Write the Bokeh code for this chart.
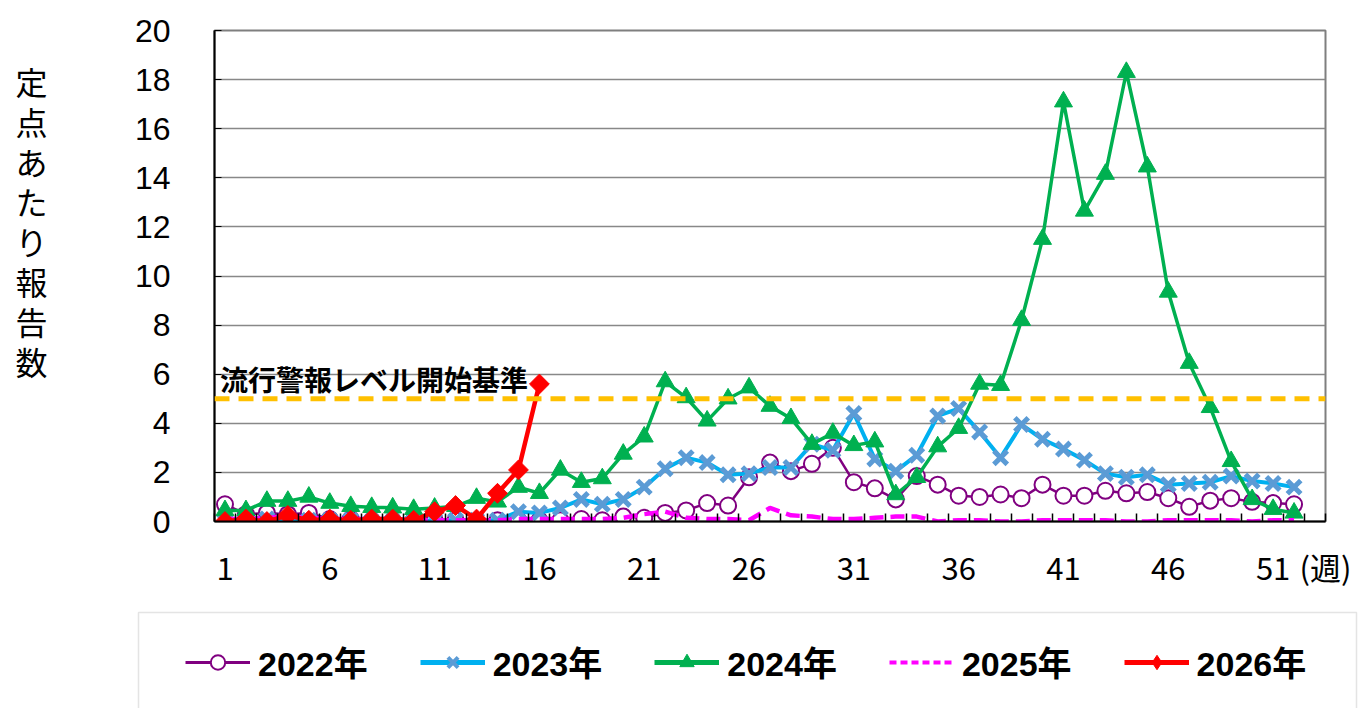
from bokeh.plotting import figure
from bokeh.models import (Legend, LegendItem, Label, Span, FixedTicker, Range1d,
                          BoxAnnotation)
from bokeh.layouts import column, row
from bokeh.embed import file_html
from bokeh.resources import INLINE

weeks = list(range(1, 53))
week_ticks = [1, 6, 11, 16, 21, 26, 31, 36, 41, 46, 51]
y_ticks = [0, 2, 4, 6, 8, 10, 12, 14, 16, 18, 20]

y2022 = [0.7, 0.3, 0.35, 0.3, 0.35, 0.1, 0.1, 0.05, 0.05, 0.05, 0.05, 0.05, 0.0,
         0.05, 0.05, 0.05, 0.05, 0.1, 0.05, 0.2, 0.15, 0.35, 0.45, 0.75, 0.65, 1.8,
         2.4, 2.05, 2.35, 3.0, 1.6, 1.35, 0.9, 1.85, 1.5, 1.05, 1.0, 1.1, 0.95,
         1.5, 1.05, 1.05, 1.25, 1.15, 1.2, 0.95, 0.6, 0.85, 0.95, 0.8, 0.75, 0.7]
y2023 = [0.0, 0.05, 0.1, 0.1, 0.05, 0.05, 0.05, 0.0, 0.0, 0.0, 0.05, 0.05, 0.05,
         0.05, 0.4, 0.35, 0.55, 0.9, 0.7, 0.9, 1.4, 2.15, 2.6, 2.4, 1.9, 1.95,
         2.2, 2.2, 3.15, 2.9, 4.4, 2.55, 2.05, 2.7, 4.3, 4.6, 3.65, 2.6, 3.95,
         3.35, 2.95, 2.5, 1.95, 1.8, 1.9, 1.5, 1.55, 1.6, 1.85, 1.65, 1.55, 1.4]
y2024 = [0.45, 0.45, 0.83, 0.83, 1.0, 0.75, 0.62, 0.58, 0.56, 0.5, 0.55, 0.62, 0.95,
         0.8, 1.4, 1.15, 2.1, 1.6, 1.75, 2.75, 3.45, 5.7, 5.05, 4.1, 5.0, 5.45,
         4.7, 4.2, 3.15, 3.6, 3.1, 3.25, 1.1, 1.8, 3.05, 3.8, 5.6, 5.55, 8.2,
         11.5, 17.1, 12.65, 14.15, 18.3, 14.45, 9.35, 6.45, 4.65, 2.45, 0.9, 0.5, 0.35]
y2025 = [0.1, 0.1, 0.15, 0.2, 0.15, 0.1, 0.1, 0.1, 0.1, 0.05, 0.05, 0.05, 0.05,
         0.05, 0.1, 0.1, 0.1, 0.1, 0.1, 0.15, 0.3, 0.4, 0.15, 0.1, 0.1, 0.05,
         0.55, 0.25, 0.2, 0.1, 0.1, 0.15, 0.2, 0.2, 0.0, 0.05, 0.05, 0.0, 0.0,
         0.05, 0.05, 0.05, 0.05, 0.0, 0.0, 0.05, 0.05, 0.05, 0.05, 0.0, 0.05, 0.05]
weeks2026 = list(range(1, 17))
y2026 = [0.0, 0.1, 0.0, 0.25, 0.05, 0.1, 0.05, 0.1, 0.1, 0.05, 0.4, 0.65, 0.1,
         1.15, 2.1, 5.6]

series_labels = ["2022年", "2023年", "2024年", "2025年", "2026年"]
alert_level = 5.0
alert_text = "流行警報レベル開始基準"
y_title = "定点あたり報告数"
x_unit = "(週)"
x_unit_pos = 53.5

JP = "Noto Sans CJK JP"
NUM = "Liberation Sans, Noto Sans CJK JP"
NAN = float("nan")

C22, C23L, C23M, C24, C25, C26 = "#800080", "#00B0F0", "#5B9BD5", "#00B050", "#FF00FF", "#FF0000"

# ---------------- main chart ----------------
p = figure(width=1258, height=600, x_range=Range1d(0.5, 53.5), y_range=Range1d(0, 20),
           output_backend="svg", toolbar_location=None,
           min_border_left=114, min_border_right=33, min_border_top=30, min_border_bottom=79)
p.background_fill_color = "white"
p.border_fill_color = "white"
p.outline_line_color = "#7f7f7f"
p.outline_line_width = 2

p.xgrid.grid_line_color = None
p.ygrid.grid_line_color = "#888888"
p.ygrid.grid_line_width = 1.5

p.yaxis.ticker = FixedTicker(ticks=y_ticks)
p.yaxis.major_label_text_font = "Liberation Sans"
p.yaxis.major_label_text_font_size = "32px"
p.yaxis.major_label_text_color = "black"
p.yaxis.major_tick_in = 7
p.yaxis.major_tick_out = 0
p.yaxis.minor_tick_line_color = None
p.yaxis.major_label_standoff = 44
p.yaxis.axis_line_color = "black"
p.yaxis.axis_line_width = 2
p.yaxis.major_tick_line_color = "black"

p.xaxis.ticker = FixedTicker(ticks=week_ticks + [x_unit_pos],
                             minor_ticks=[w + 0.5 for w in range(0, 54)])
p.xaxis.major_label_overrides = {x_unit_pos: x_unit}
p.xaxis.major_label_text_font = JP
p.xaxis.major_label_text_font_size = "31px"
p.xaxis.major_label_text_color = "black"
p.xaxis.major_tick_line_color = None
p.xaxis.minor_tick_in = 8
p.xaxis.minor_tick_out = 0
p.xaxis.minor_tick_line_color = "black"
p.xaxis.minor_tick_line_width = 1.5
p.xaxis.major_label_standoff = 16
p.xaxis.axis_line_color = "black"
p.xaxis.axis_line_width = 2

p.line(weeks, y2022, line_color=C22, line_width=2.5)
p.scatter(weeks, y2022, marker="circle", size=16, line_color=C22,
          fill_color="white", line_width=2)
p.line(weeks, y2023, line_color=C23L, line_width=4)
p.scatter(weeks, y2023, marker="x", size=19, line_color=C23M, line_width=5)
p.line(weeks, y2024, line_color=C24, line_width=3.5)
p.scatter(weeks, y2024, marker="triangle", size=18, line_color=C24, fill_color=C24)
p.line(weeks, y2025, line_color=C25, line_width=4.5, line_dash="14 7")
p.line(weeks2026, y2026, line_color=C26, line_width=4.5)
p.scatter(weeks2026, y2026, marker="square", angle=0.785398, size=14,
          line_color=C26, fill_color=C26)

p.add_layout(Span(location=alert_level, dimension="width", line_color="#FFC000",
                  line_width=5, line_dash="15 9"))
p.add_layout(Label(x=0.76, y=5.82, text=alert_text, text_font=JP,
                   text_font_size="28px", text_font_style="bold", text_color="black",
                   text_baseline="middle", text_align="left"))

# ---------------- y-axis title (upright, stacked) ----------------
pt = figure(width=100, height=600, x_range=Range1d(0, 100), y_range=Range1d(0, 600),
            output_backend="svg", toolbar_location=None,
            x_axis_type=None, y_axis_type=None,
            min_border_left=0, min_border_right=0, min_border_top=0, min_border_bottom=0)
pt.outline_line_color = None
pt.xgrid.grid_line_color = None
pt.ygrid.grid_line_color = None
pt.add_layout(Label(x=31, y=566, text="\n".join(list(y_title)), text_font=JP,
                    text_font_size="32px", text_color="black", text_line_height=0.87,
                    text_baseline="top", text_align="center"))

# ---------------- legend panel ----------------
pl = figure(width=1358, height=108, x_range=Range1d(0, 1358), y_range=Range1d(0, 108),
            output_backend="svg", toolbar_location=None,
            x_axis_type=None, y_axis_type=None,
            min_border_left=0, min_border_right=0, min_border_top=0, min_border_bottom=0)
pl.outline_line_color = None
pl.xgrid.grid_line_color = None
pl.ygrid.grid_line_color = None
pl.add_layout(BoxAnnotation(left=138, right=1356, top=96, bottom=-30,
                            fill_alpha=0, line_color="#a6a6a6", line_width=1.5))

# legend-only proxies (no visible data)
k22a = pl.line([NAN], [NAN], line_color=C22, line_width=3)
k22b = pl.scatter([NAN], [NAN], marker="circle", line_color=C22, fill_color="white", line_width=2)
k23a = pl.line([NAN], [NAN], line_color=C23L, line_width=5)
k23b = pl.scatter([NAN], [NAN], marker="x", line_color=C23M, line_width=4)
k24a = pl.line([NAN], [NAN], line_color=C24, line_width=5)
k24b = pl.scatter([NAN], [NAN], marker="triangle", line_color=C24, fill_color=C24)
k25a = pl.line([NAN], [NAN], line_color=C25, line_width=4, line_dash="7 4")
k26a = pl.line([NAN], [NAN], line_color=C26, line_width=5)
k26b = pl.scatter([NAN], [NAN], marker="diamond", line_color=C26, fill_color=C26)

legend = Legend(items=[
    LegendItem(label=series_labels[0], renderers=[k22a, k22b]),
    LegendItem(label=series_labels[1], renderers=[k23a, k23b]),
    LegendItem(label=series_labels[2], renderers=[k24a, k24b]),
    LegendItem(label=series_labels[3], renderers=[k25a]),
    LegendItem(label=series_labels[4], renderers=[k26a, k26b]),
], orientation="horizontal", location=(185, 22), padding=10, spacing=52,
    label_standoff=8, glyph_width=65, glyph_height=36,
    label_text_font=NUM, label_text_font_size="34px",
    label_text_font_style="bold", label_text_color="black",
    border_line_color=None, background_fill_alpha=0, margin=0)
pl.add_layout(legend, "center")

layout = column(row(pt, p), pl)
open("out.html", "w").write(file_html(layout, INLINE))
